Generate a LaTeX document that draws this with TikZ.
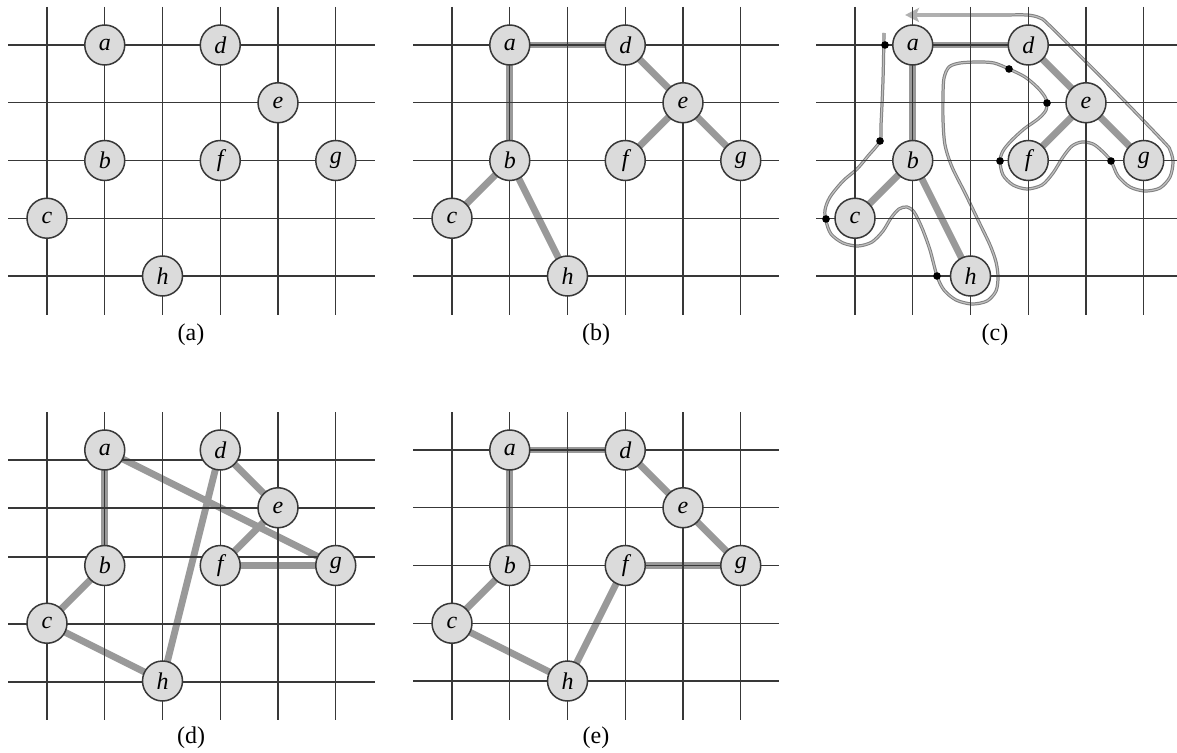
\documentclass[tikz,border=0pt]{standalone}
\usepackage{fontspec}
\setmainfont{Liberation Serif}
\usetikzlibrary{arrows.meta}
\pgfdeclarelayer{bg}
\pgfdeclarelayer{edges}
\pgfdeclarelayer{gridl}
\pgfsetlayers{bg,edges,gridl,main}
\definecolor{nodefill}{gray}{0.86}
\definecolor{gridcol}{gray}{0.22}
\definecolor{edgecol}{gray}{0.6}
\definecolor{tourcol}{gray}{0.5}
\definecolor{tourin}{gray}{0.75}
\tikzset{
  vert/.style={circle, draw=gridcol, line width=0.75pt, fill=nodefill, minimum size=20pt, inner sep=0pt, font=\fontsize{12}{14}\selectfont\itshape},
  gridline/.style={draw=gridcol, line width=0.65pt},
  edge/.style={draw=edgecol, line width=3.4pt},
  tour/.style={draw=tourcol, line width=0.5pt, double=tourin, double distance=0.6pt},
  tourdot/.style={circle, fill=black, inner sep=0pt, minimum size=3.8pt},
  caption/.style={font=\fontsize{12}{14}\selectfont},
}
\newcommand\placeverts[2]{%
  \node[vert] (a) at (#1+57.75,#2) {a};
  \node[vert] (d) at (#1+173.25,#2) {d};
  \node[vert] (e) at (#1+231,#2+57.75) {e};
  \node[vert] (b) at (#1+57.75,#2+115.5) {b};
  \node[vert] (f) at (#1+173.25,#2+115.5) {f};
  \node[vert] (g) at (#1+288.75,#2+115.5) {g};
  \node[vert] (c) at (#1,#2+173.25) {c};
  \node[vert] (h) at (#1+115.5,#2+231) {h};
}
% vertical grid lines: x0, ytop, ybottom
\newcommand\vgrid[3]{%
  \begin{pgfonlayer}{gridl}
  \foreach \i in {0,...,5} \draw[gridline] (#1+57.75*\i,#2) -- (#1+57.75*\i,#3);
  \end{pgfonlayer}}
% horizontal grid lines: xleft, xright, list of y
\newcommand\hgrid[3]{%
  \begin{pgfonlayer}{gridl}
  \foreach \y in {#3} \draw[gridline] (#1,\y) -- (#2,\y);
  \end{pgfonlayer}}
\newcommand\treeedges[1]{%
  \begin{pgfonlayer}{edges}
  \foreach \u/\v in {#1} \draw[edge] (\u.center) -- (\v.center);
  \end{pgfonlayer}}
\begin{document}
\begin{tikzpicture}[x=0.5pt,y=-0.5pt]
\useasboundingbox (0,0) rectangle (1177,753);
\begin{pgfonlayer}{bg}
  \fill[white] (0,0) rectangle (1177,753);
\end{pgfonlayer}

% ---------- (a) ----------
\begin{scope}[name prefix=A-]
  \vgrid{47}{7}{315}
  \hgrid{8}{375}{45,102.75,160.5,218.25,276}
  \placeverts{47}{45}
  \node[caption] (cap) at (191,335) {(a)};
\end{scope}

% ---------- (b) ----------
\begin{scope}[name prefix=B-]
  \vgrid{452}{7}{315}
  \hgrid{413}{779}{45,102.75,160.5,218.25,276}
  \placeverts{452}{45}
  \treeedges{a/d,a/b,d/e,e/f,e/g,b/c,b/h}
  \node[caption] (cap) at (596,335) {(b)};
\end{scope}

% ---------- (c) ----------
\begin{scope}[name prefix=C-]
  \vgrid{855}{7}{315}
  \hgrid{816}{1177}{45,102.75,160.5,218.25,276}
  \placeverts{855}{45}
  \treeedges{a/d,a/b,d/e,e/f,e/g,b/c,b/h}
  \begin{pgfonlayer}{edges}
  \draw[tour] plot[smooth, tension=0.5] coordinates {
    (884,33) (883,80) (881,125) (880,141) (868,156) (857,169) (843,181) (830,197)
    (825,210) (826,221) (831,234) (843,243) (858,246) (872,242) (883,231) (891,218)
    (899,209) (907,207) (914,212) (922,228) (930,250) (937,276) (944,290) (956,300)
    (972,304) (987,301) (996,291) (998,277) (996,262) (990,245) (978,220) (965,193)
    (952,167) (945,145) (943,120) (943,95) (944,78) (949,67) (960,63) (978,62)
    (994,63) (1009,69) (1025,77) (1038,88) (1046,99) (1046,110) (1038,119) (1024,129)
    (1011,141) (1003,151) (1000,161) (1003,175) (1013,185) (1027,189) (1042,185)
    (1053,173) (1063,157) (1072,146) (1082,142) (1093,144) (1102,151) (1111,161)
    (1118,176) (1130,187) (1145,191) (1160,188) (1170,177) (1173,162) (1170,150)
    (1163,141) (1107,83) (1050,26) (1040,18) (1027,15) (1000,15) (935,15)};
  \draw[draw=gray!62, line width=1.6pt, -{Stealth[length=7pt,width=7pt,inset=1.5pt]}] (940,15) -- (905,15);
  \end{pgfonlayer}
  \node[tourdot] (da) at (885,45) {};
  \node[tourdot] (db) at (880,141) {};
  \node[tourdot] (dc) at (826,219) {};
  \node[tourdot] (dh) at (937,276) {};
  \node[tourdot] (dd) at (1009,69) {};
  \node[tourdot] (de) at (1047,103) {};
  \node[tourdot] (df) at (1000,161) {};
  \node[tourdot] (dg) at (1111,161) {};
  \node[caption] (cap) at (995,335) {(c)};
\end{scope}

% ---------- (d) ----------
\begin{scope}[name prefix=D-]
  \vgrid{47}{412}{720}
  \hgrid{8}{375}{460,508,557,624,682}
  \placeverts{47}{450}
  \treeedges{a/b,a/g,d/e,d/h,e/f,f/g,b/c,c/h}
  \node[caption] (cap) at (191,738) {(d)};
\end{scope}

% ---------- (e) ----------
\begin{scope}[name prefix=E-]
  \vgrid{452}{412}{720}
  \hgrid{413}{779}{450,507.75,565.5,623.25,681}
  \placeverts{452}{450}
  \treeedges{a/d,a/b,d/e,e/g,f/g,f/h,c/h,b/c}
  \node[caption] (cap) at (596,738) {(e)};
\end{scope}
\end{tikzpicture}
\end{document}
